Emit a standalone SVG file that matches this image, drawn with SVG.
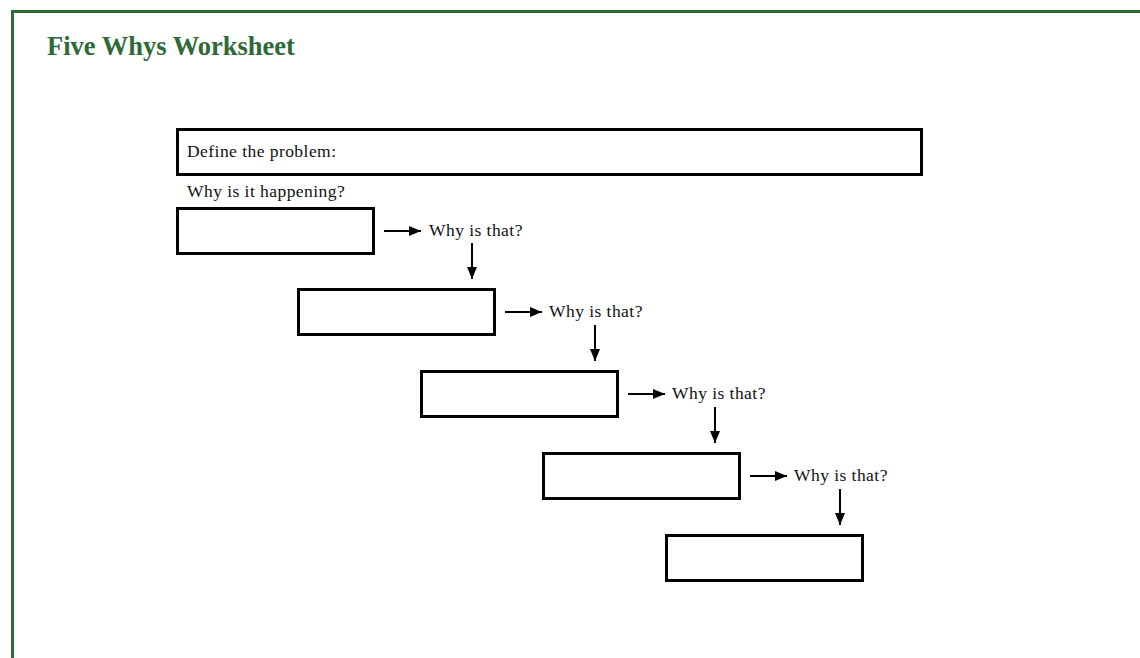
<svg xmlns="http://www.w3.org/2000/svg" width="1140" height="658" viewBox="0 0 1140 658">
  <style>
    .frame { fill: #ffffff; stroke: #2e6a37; stroke-width: 3; }
    .title { font-family: "Liberation Serif", serif; font-weight: bold; font-size: 26.5px; fill: #2e6a37; }
    .box { fill: #ffffff; stroke: #000000; stroke-width: 3; }
    .lbl { font-family: "Liberation Serif", serif; font-size: 17.5px; fill: #111111; letter-spacing: 0.45px; }
    .arrow { stroke: #000000; stroke-width: 2; fill: none; marker-end: url(#head); }
  </style>
  <defs>
    <marker id="head" viewBox="0 0 12 10" refX="12" refY="5" markerWidth="6" markerHeight="5" markerUnits="strokeWidth" orient="auto">
      <path d="M0,0 L12,5 L0,10 Z" fill="#000000"/>
    </marker>
  </defs>
  <rect class="frame" x="12.5" y="11.5" width="1140" height="660"/>
  <text class="title" x="47" y="55">Five Whys Worksheet</text>

  <g id="problem">
    <rect class="box" x="177.5" y="129.5" width="744" height="45"/>
    <text class="lbl" x="187" y="157">Define the problem:</text>
  </g>
  <g id="why-label">
    <text class="lbl" x="187" y="197">Why is it happening?</text>
  </g>
  <g id="box1"><rect class="box" x="177.5" y="208.5" width="196" height="45"/></g>
  <g id="box2"><rect class="box" x="298.5" y="289.5" width="196" height="45"/></g>
  <g id="box3"><rect class="box" x="421.5" y="371.5" width="196" height="45"/></g>
  <g id="box4"><rect class="box" x="543.5" y="453.5" width="196" height="45"/></g>
  <g id="box5"><rect class="box" x="666.5" y="535.5" width="196" height="45"/></g>

  <g id="q1"><text class="lbl" x="429" y="236">Why is that?</text></g>
  <g id="q2"><text class="lbl" x="549" y="317">Why is that?</text></g>
  <g id="q3"><text class="lbl" x="672" y="399">Why is that?</text></g>
  <g id="q4"><text class="lbl" x="794" y="481">Why is that?</text></g>

  <g id="connectors">
    <line class="arrow" x1="384" y1="231" x2="421" y2="231"/>
    <line class="arrow" x1="472" y1="243" x2="472" y2="279"/>
    <line class="arrow" x1="505" y1="312" x2="542" y2="312"/>
    <line class="arrow" x1="595" y1="325" x2="595" y2="361"/>
    <line class="arrow" x1="628" y1="394" x2="665" y2="394"/>
    <line class="arrow" x1="715" y1="407" x2="715" y2="443"/>
    <line class="arrow" x1="750" y1="476" x2="787" y2="476"/>
    <line class="arrow" x1="840" y1="489" x2="840" y2="525"/>
  </g>
</svg>
